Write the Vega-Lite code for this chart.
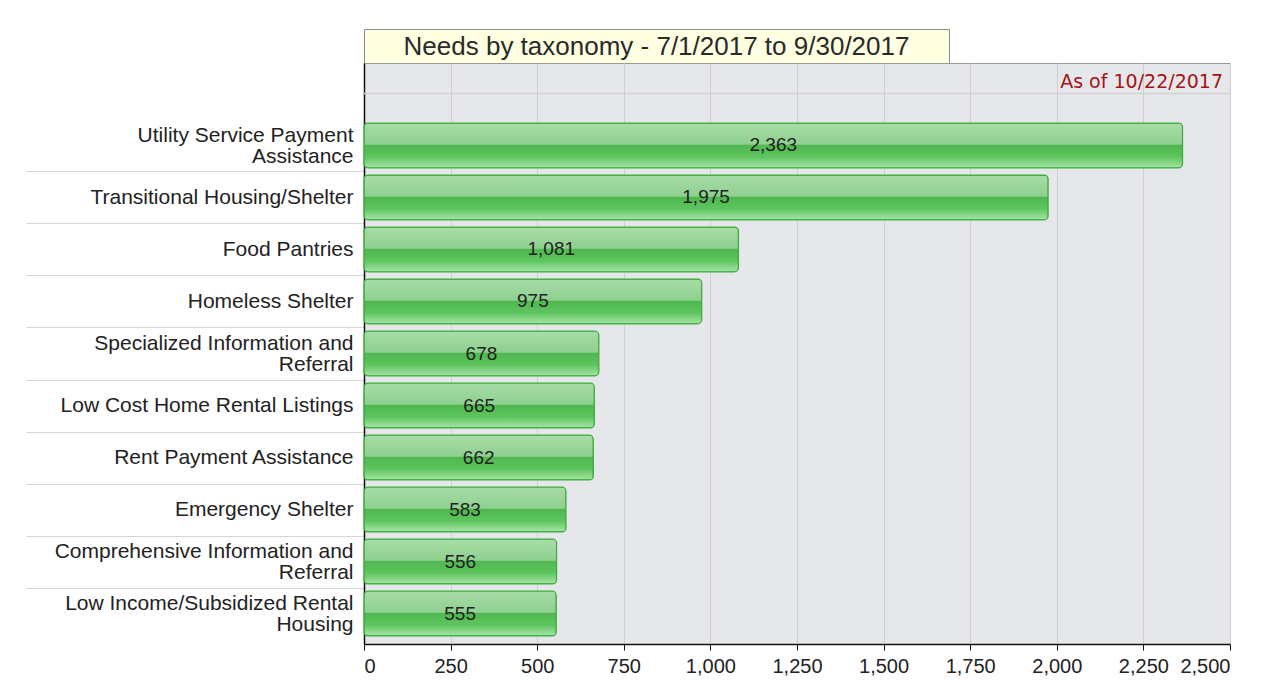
{
  "$schema": "https://vega.github.io/schema/vega-lite/v6.json",
  "padding": {"left": 25, "top": 28, "right": 10, "bottom": 5},
  "background": "white",
  "bounds": "flush",
  "spacing": 0,
  "config": {"font": "Liberation Sans", "view": {"stroke": null}},
  "vconcat": [
    {
      "width": 585,
      "height": 34,
      "view": {"fill": "#ffffe1", "stroke": "#8a8a8a", "strokeWidth": 1},
      "data": {"values": [{"title": "Needs by taxonomy - 7/1/2017 to 9/30/2017"}]},
      "mark": {"type": "text", "fontSize": 26, "color": "#2a2a2a", "font": "Liberation Sans", "dy": 1},
      "encoding": {"text": {"field": "title"}}
    },
    {
      "width": 866,
      "height": 581,
      "view": {"fill": "#e5e7ea", "stroke": "#9a9a9a"},
      "data": {
        "values": [
          {"category": "Utility Service Payment Assistance", "count": 2363},
          {"category": "Transitional Housing/Shelter", "count": 1975},
          {"category": "Food Pantries", "count": 1081},
          {"category": "Homeless Shelter", "count": 975},
          {"category": "Specialized Information and Referral", "count": 678},
          {"category": "Low Cost Home Rental Listings", "count": 665},
          {"category": "Rent Payment Assistance", "count": 662},
          {"category": "Emergency Shelter", "count": 583},
          {"category": "Comprehensive Information and Referral", "count": 556},
          {"category": "Low Income/Subsidized Rental Housing", "count": 555}
        ]
      },
      "resolve": {"scale": {"x": "independent"}, "axis": {"x": "independent"}},
      "layer": [
        {
          "mark": {"type": "rule", "color": "#d2d2d2", "strokeWidth": 1.5},
          "encoding": {
            "x": {"field": "count", "type": "quantitative",
              "scale": {"domain": [0, 2500], "nice": false},
              "axis": {"title": null, "values": [0, 250, 500, 750, 1000, 1250, 1500, 1750, 2000, 2250, 2500],
                "labelExpr": "format(datum.value, ',')", "labelOverlap": false, "grid": true, "gridColor": "#cfcfcf",
                "domainColor": "#111111", "domainWidth": 1.5,
                "tickColor": "#111111", "tickSize": 6, "labelFontSize": 20, "labelPadding": 6, "labelColor": "#222222"}},
            "y": {"field": "category", "type": "nominal",
              "scale": {"domain": [" ", "Utility Service Payment Assistance", "Transitional Housing/Shelter", "Food Pantries", "Homeless Shelter", "Specialized Information and Referral", "Low Cost Home Rental Listings", "Rent Payment Assistance", "Emergency Shelter", "Comprehensive Information and Referral", "Low Income/Subsidized Rental Housing"],
                "paddingInner": 0.14, "paddingOuter": 0.155},
              "axis": {"title": null, "grid": false, "tickOffset": 26, "tickSize": 338,
                "tickColor": {"condition": {"test": "datum.value == ' ' || datum.value == 'Low Income/Subsidized Rental Housing'", "value": "transparent"}, "value": "#d6d6d6"},
                "domainColor": "#111111", "domainWidth": 1.5, "labelPadding": -327, "labelFontSize": 21,
                "labelColor": "#222222", "labelLimit": 340, "labelLineHeight": 21,
                "labelOffset": {"condition": {"test": "indexof(['Utility Service Payment Assistance', 'Specialized Information and Referral', 'Comprehensive Information and Referral', 'Low Income/Subsidized Rental Housing'], datum.value) >= 0", "value": -36}, "value": -26},
                "labelExpr": "datum.value == 'Utility Service Payment Assistance' ? ['Utility Service Payment', 'Assistance'] : datum.value == 'Specialized Information and Referral' ? ['Specialized Information and', 'Referral'] : datum.value == 'Comprehensive Information and Referral' ? ['Comprehensive Information and', 'Referral'] : datum.value == 'Low Income/Subsidized Rental Housing' ? ['Low Income/Subsidized Rental', 'Housing'] : datum.label"}}
          }
        },
        {
          "data": {"values": [{"category": " "}]},
          "mark": {"type": "rule", "color": "#d2d2d2", "strokeWidth": 1.5},
          "encoding": {"y": {"field": "category", "type": "nominal"}}
        },
        {
          "mark": {"type": "bar", "cornerRadius": 4, "stroke": "#3fae3f", "strokeWidth": 1.2,
            "color": {"gradient": "linear", "x1": 0, "y1": 0, "x2": 0, "y2": 1,
              "stops": [
                {"offset": 0, "color": "#a8dca8"},
                {"offset": 0.47, "color": "#8fd08f"},
                {"offset": 0.5, "color": "#50b850"},
                {"offset": 0.75, "color": "#5ec45e"},
                {"offset": 1, "color": "#a6e4a6"}
              ]}},
          "encoding": {
            "x": {"field": "count", "type": "quantitative", "scale": {"domain": [0, 2500], "nice": false}, "axis": null},
            "y": {"field": "category", "type": "nominal"}
          }
        },
        {
          "mark": {"type": "text", "fontSize": 19, "color": "#222222"},
          "encoding": {
            "x": {"field": "count", "type": "quantitative", "scale": {"domain": [0, 5000], "nice": false}, "axis": null},
            "y": {"field": "category", "type": "nominal"},
            "text": {"field": "count", "type": "quantitative", "format": ","}
          }
        },
        {
          "data": {"values": [{"note": "As of 10/22/2017"}]},
          "mark": {"type": "text", "align": "right", "fontSize": 19, "font": "DejaVu Sans", "color": "#a31515", "dx": -7, "dy": -11},
          "encoding": {
            "x": {"datum": 2500, "type": "quantitative", "scale": {"domain": [0, 2500], "nice": false}, "axis": null},
            "y": {"datum": " ", "type": "nominal"},
            "text": {"field": "note"}
          }
        }
      ]
    }
  ]
}
